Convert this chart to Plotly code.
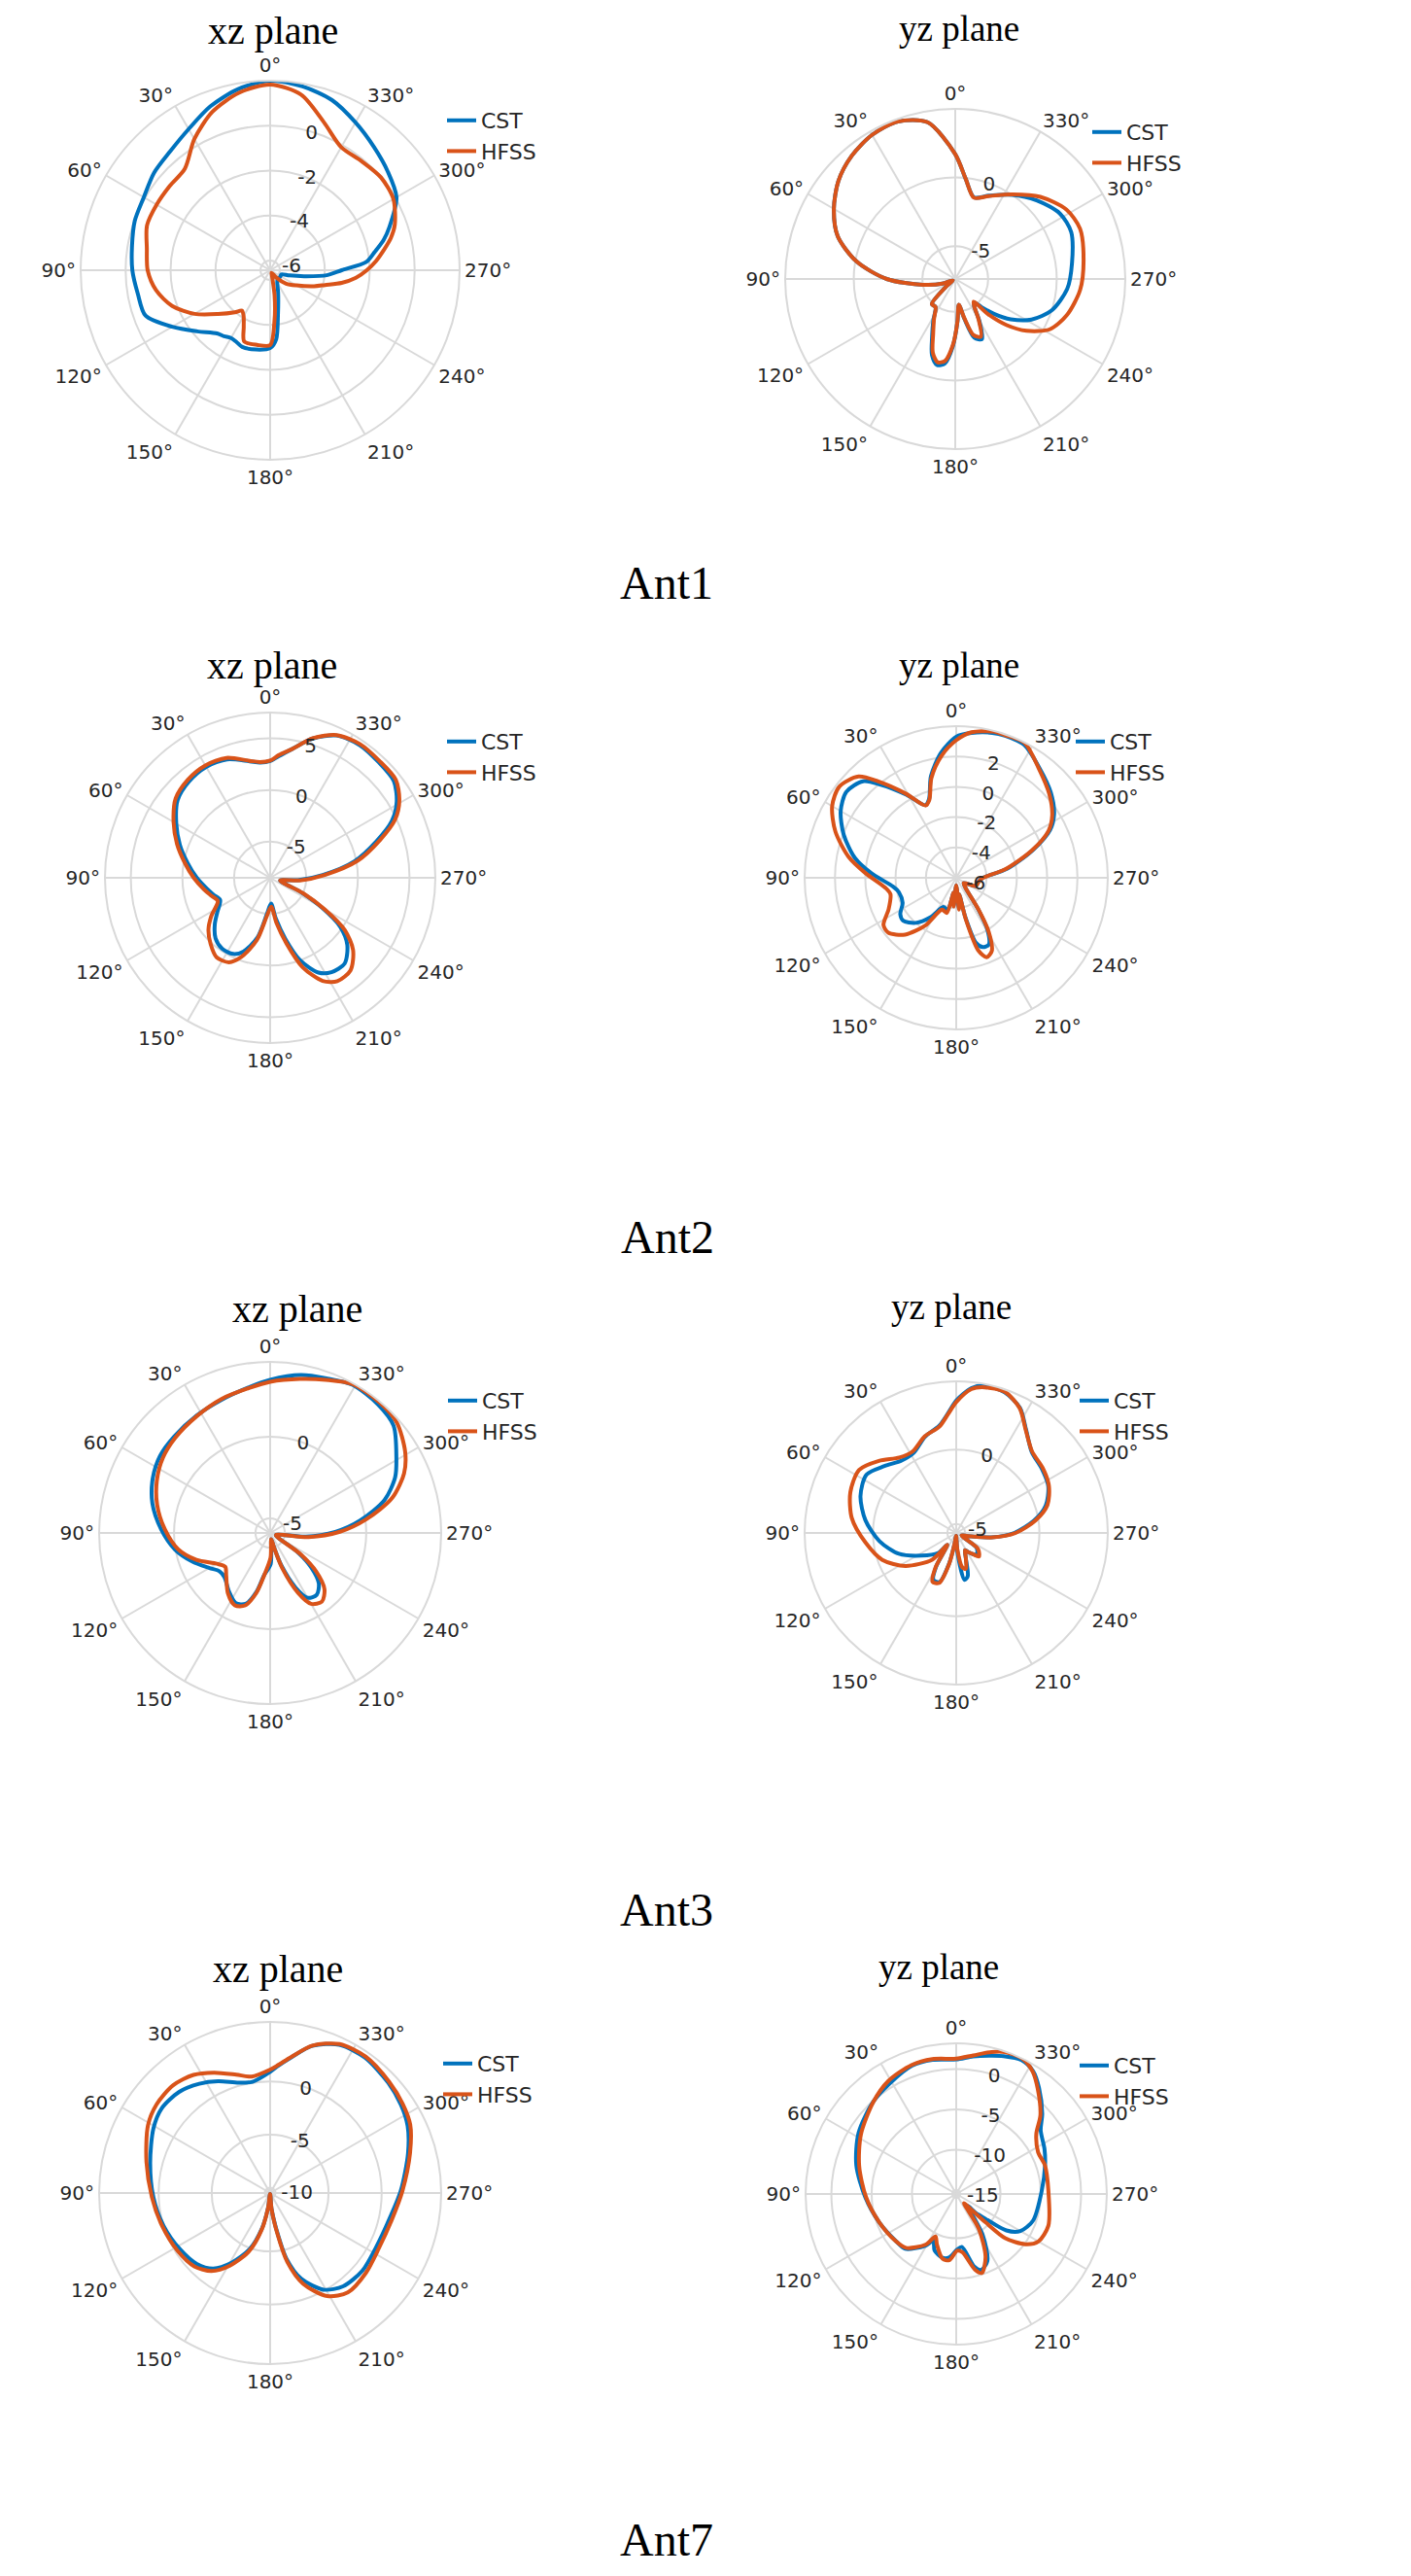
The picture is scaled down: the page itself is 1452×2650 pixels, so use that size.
import plotly.graph_objects as go

# ---- values (theta in degrees, gain in dB) ----

# Ant1, xz plane
theta_ant1_xz = [0, 10, 20, 30, 40, 50, 60, 70, 80, 90, 100, 110, 120, 130, 140, 145, 150, 155, 160, 170,
                 180, 185, 190, 200, 210, 220, 230, 240, 250, 255, 260, 265, 270, 275, 280, 285, 290, 300, 310, 320,
                 330, 340, 350]
cst_ant1_xz = [2.0, 1.75, 1.33, 0.82, 0.48, 0.31, 0.06, -0.02, -0.19, -0.3, -0.45, -0.53, -1.4, -2.2, -2.76, -2.85, -2.95, -2.9, -2.8, -2.85,
               -2.97, -3.35, -4.43, -5.4, -5.8, -5.9, -5.9, -5.9, -5.9, -5.54, -4.9, -3.9, -3.25, -2.13, -1.7, -1.2, -0.78, 0.06, 0.4, 0.74,
               1.16, 1.62, 1.87]
hfss_ant1_xz = [1.83, 1.58, 1.07, 0.31, -0.53, -0.6, -0.6, -0.6, -0.86, -0.98, -1.28, -1.79, -2.55, -3.4, -3.99, -4.24, -4.07, -3.65, -3.06, -3.06,
                -3.1, -4.2, -5.3, -6.2, -6.3, -6.0, -5.5, -5.08, -4.35, -3.9, -3.2, -2.6, -2.13, -1.7, -1.3, -0.87, -0.53, -0.1, 0.0, -0.1,
                -0.11, 0.57, 1.5]

# Ant1, yz plane
theta_ant1_yz = [0, 10, 20, 30, 40, 50, 60, 70, 80, 90, 100, 110, 120, 130, 137, 145, 152, 158, 163, 168,
                 173, 178, 183, 188, 193, 198, 204, 210, 215, 219, 223, 228, 234, 242, 252, 265, 278, 292, 302, 314,
                 326, 338, 347, 354]
cst_ant1_yz = [1.7, 4.2, 4.82, 4.73, 4.33, 3.72, 2.82, 1.72, -0.1, -2.4, -5.0, -6.4, -7.2, -6.5, -4.9, -4.9, -4.0, -2.9, -1.6, -1.0,
               -1.2, -2.5, -4.3, -5.5, -4.4, -2.9, -2.6, -3.9, -5.0, -5.2, -4.6, -3.6, -2.4, -1.1, 0.0, 0.8, 1.2, 1.72, 1.6, 0.85,
               0.0, -0.85, -1.3, -0.07]
hfss_ant1_yz = [1.7, 4.2, 4.82, 4.73, 4.33, 3.72, 2.82, 1.72, -0.1, -2.4, -5.0, -6.4, -7.2, -6.5, -4.9, -4.9, -4.1, -3.1, -1.8, -1.2,
                -1.4, -2.6, -4.3, -5.5, -4.5, -3.1, -2.8, -4.0, -5.0, -5.27, -3.9, -2.4, -0.98, 0.41, 1.15, 1.74, 2.05, 2.41, 2.15, 1.22,
                0.04, -0.88, -1.32, -0.07]

# Ant2, xz plane
theta_ant2_xz = [0, 5, 10, 20, 30, 40, 50, 60, 70, 80, 90, 100, 107, 114, 123, 130, 138, 146, 154, 160,
                 168, 175, 182, 188, 194, 200, 207, 213, 221, 229, 235, 240, 245, 255, 265, 273, 281, 289, 295, 301,
                 308, 317, 326, 335, 343, 350, 356]
cst_ant2_xz = [2.8, 2.7, 2.95, 3.7, 3.9, 3.7, 3.2, 2.0, 0.8, -0.4, -1.4, -2.3, -2.8, -3.2, -2.4, -1.5, -0.6, -0.2, -0.3, -0.9,
               -2.6, -5.0, -6.0, -4.5, -2.4, 0.0, 1.8, 2.4, 2.5, 1.4, -0.2, -2.7, -5.2, -7.5, -5.8, -3.4, -0.2, 2.4, 4.5, 5.8,
               6.7, 6.85, 7.0, 6.7, 5.6, 4.2, 3.3]
hfss_ant2_xz = [2.85, 2.75, 3.0, 3.85, 4.06, 3.9, 3.45, 2.3, 1.1, -0.1, -1.1, -2.0, -2.55, -2.95, -1.7, -0.7, 0.12, 0.78, 0.6, -0.34,
                -2.34, -4.77, -5.7, -4.08, -1.94, 0.72, 2.7, 3.44, 3.37, 2.14, 0.33, -2.4, -5.0, -7.5, -5.6, -3.2, 0.12, 2.76, 4.86, 6.1,
                6.94, 7.0, 7.1, 6.75, 5.63, 4.2, 3.4]

# Ant2, yz plane
theta_ant2_yz = [0, 7, 14, 19, 23, 31, 39, 44, 52, 60, 69, 79, 87, 98, 104, 115, 123, 129, 138, 147,
                 156, 165, 170, 175, 180, 185, 190, 193, 197, 201, 206, 211, 215, 223, 235, 247, 260, 269, 280, 290,
                 297, 303, 312, 323, 333, 341, 346, 354]
cst_ant2_yz = [3.3, 2.3, 0.9, -0.5, -0.8, 0.4, 1.9, 2.85, 3.2, 2.8, 1.95, 0.8, -0.4, -1.8, -2.1, -2.1, -1.6, -1.5, -2.0, -2.9,
               -3.9, -3.8, -5.0, -4.2, -5.5, -4.0, -4.9, -3.4, -1.5, -1.1, -1.1, -2.0, -3.5, -5.1, -5.4, -4.6, -4.5, -4.3, -2.6, -0.6,
               0.95, 1.7, 2.4, 3.1, 3.85, 3.9, 3.85, 3.6]
hfss_ant2_yz = [3.07, 2.08, 0.77, -0.56, -0.82, 0.48, 2.17, 3.28, 3.78, 3.45, 2.54, 1.23, 0.0, -1.28, -1.53, -1.08, -0.28, -0.24, -0.96, -2.25,
                -3.7, -3.6, -5.0, -4.1, -5.5, -3.9, -4.9, -3.2, -0.97, -0.39, -0.64, -1.84, -3.41, -5.1, -5.4, -4.6, -4.5, -4.28, -2.69, -0.66,
                0.84, 1.55, 2.26, 3.04, 3.97, 3.95, 3.94, 3.65]

# Ant3, xz plane
theta_ant3_xz = [0, 8, 20, 32, 45, 55, 65, 76, 88, 100, 110, 120, 127, 134, 145, 154, 161, 167, 172, 181,
                 190, 195, 199, 205, 210, 217, 224, 230, 235, 245, 255, 264, 271, 278, 286, 294, 301, 311, 320, 331,
                 340, 349]
cst_ant3_xz = [3.5, 3.15, 2.8, 2.6, 2.45, 2.35, 2.05, 1.55, 0.8, 0.02, -0.8, -1.6, -2.0, -2.0, -1.5, -1.1, -1.3, -2.2, -3.3, -4.0,
               -5.5, -5.0, -3.8, -2.2, -1.3, -1.15, -1.6, -2.6, -3.8, -5.5, -5.5, -3.7, -1.9, -0.3, 1.4, 2.5, 3.14, 4.14, 4.4, 4.5,
               4.2, 3.97]
hfss_ant3_xz = [3.38, 3.1, 2.85, 2.57, 2.35, 2.14, 1.77, 1.25, 0.57, -0.16, -1.08, -2.12, -2.45, -2.15, -1.38, -0.96, -1.2, -2.12, -3.27, -4.38,
                -5.5, -4.95, -3.6, -1.84, -0.88, -0.62, -1.1, -2.2, -3.61, -5.5, -5.5, -3.53, -1.62, 0.04, 1.89, 3.1, 3.77, 4.41, 4.55, 4.54,
                4.1, 3.73]

# Ant3, yz plane
theta_ant3_yz = [0, 4, 9, 18, 28, 37, 47, 57, 69, 82, 96, 110, 123, 138, 143, 149, 154, 161, 167, 172,
                 178, 184, 190, 195, 201, 207, 212, 218, 224, 234, 245, 255, 263, 270, 279, 287, 297, 307, 317, 326,
                 333, 341, 349, 354]
cst_ant3_yz = [3.3, 2.45, 1.7, 1.2, 0.5, 0.5, 1.0, 1.6, 1.3, 0.57, -0.4, -1.5, -2.8, -3.8, -4.6, -3.0, -2.1, -2.1, -3.5, -5.0,
               -5.4, -4.2, -2.4, -2.6, -3.8, -4.3, -4.1, -3.8, -3.6, -3.9, -5.2, -4.8, -3.2, -1.7, -0.3, 0.7, 1.35, 1.6, 1.85, 2.8,
               3.85, 4.4, 4.5, 4.2]
hfss_ant3_yz = [3.2, 2.4, 1.64, 1.24, 0.62, 0.75, 1.51, 2.19, 2.03, 1.49, 0.54, -0.31, -1.53, -3.19, -4.6, -2.9, -1.96, -2.04, -3.44, -5.0,
                -5.4, -4.5, -3.25, -3.1, -3.8, -4.3, -4.07, -3.8, -3.4, -3.8, -5.2, -4.8, -3.15, -1.6, -0.19, 0.82, 1.4, 1.68, 1.89, 2.76,
                3.81, 4.44, 4.38, 4.13]

# Ant7, xz plane
theta_ant7_xz = [0, 9, 16, 25, 33, 42, 52, 61, 76, 92, 107, 122, 134, 143, 151, 160, 167, 172, 178, 185,
                 190, 194, 200, 209, 218, 230, 243, 258, 271, 286, 296, 304, 313, 325, 335, 344, 351, 357]
cst_ant7_xz = [0.9, 0.1, 0.3, 1.1, 1.75, 2.3, 2.45, 2.06, 1.14, 0.5, 0.0, -0.5, -0.9, -1.6, -3.0, -4.9, -7.1, -9.1, -10.4, -9.0,
               -6.9, -4.1, -1.9, -0.1, 0.65, 0.85, 0.7, 1.0, 1.8, 3.0, 3.9, 4.35, 4.7, 5.05, 4.9, 3.9, 2.45, 1.4]
hfss_ant7_xz = [1.12, 0.59, 1.09, 2.0, 2.75, 3.14, 3.06, 2.65, 1.5, 0.64, 0.13, -0.23, -0.57, -1.32, -2.69, -4.64, -6.94, -9.07, -10.4, -9.0,
                -6.64, -3.79, -1.4, 0.59, 1.38, 1.24, 0.98, 1.24, 1.96, 3.2, 4.17, 4.54, 4.83, 5.17, 4.96, 3.93, 2.49, 1.48]

# Ant7, yz plane
theta_ant7_yz = [0, 10, 19, 31, 42, 58, 74, 92, 110, 128, 137, 149, 154, 159, 168, 174, 181, 186, 194, 198,
                 205, 213, 220, 224, 226, 228, 234, 240, 251, 272, 288, 297, 307, 313, 322, 328, 334, 341, 346, 353]
cst_ant7_yz = [1.2, 1.4, 1.35, 0.52, -0.1, -1.2, -2.6, -4.2, -5.3, -6.0, -6.2, -8.0, -9.0, -8.0, -7.4, -7.6, -8.6, -8.9, -6.2, -5.57,
               -6.34, -9.5, -13.0, -13.5, -12.0, -11.5, -7.8, -6.3, -5.4, -4.88, -3.9, -3.2, -2.37, -0.9, 1.2, 2.5, 3.0, 2.6, 2.2, 1.7]
hfss_ant7_yz = [1.3, 1.5, 1.44, 0.86, -0.13, -1.55, -2.97, -4.3, -5.31, -5.98, -6.36, -8.18, -9.63, -8.8, -7.29, -7.23, -8.45, -8.23, -5.81, -5.2,
                -6.88, -10.36, -14.0, -12.7, -10.45, -7.3, -4.9, -3.72, -3.4, -4.05, -3.92, -4.09, -3.05, -1.21, 0.96, 2.41, 3.2, 3.13, 2.66, 1.83]

series_names = ['CST', 'HFSS']
angle_ticks = list(range(0, 360, 30))
ant_labels = ['Ant1', 'Ant2', 'Ant3', 'Ant7']

# ---- styling / layout ----
BLUE = '#0072BD'
ORANGE = '#D95319'
GRID = '#d9d9d9'
TXT = '#262626'
SANS = 'DejaVu Sans'
SERIF = 'Liberation Serif'

W, H = 1436, 2634
OFF = 8  # default body margin of the page

R_AXIS_ANGLE = 80  # radial labels sit just right of the 0° spoke


def fx(px):
    return (px - OFF) / W


def fy(py):
    return 1 - (py - OFF) / H


panels = [
    dict(theta=theta_ant1_xz, cst=cst_ant1_xz, hfss=hfss_ant1_xz, rng=[-6.43, 2], ticks=[-6, -4, -2, 0],
         c=(278, 278), rad=195, leg=(462, 118), title='xz plane', tpos=(281, 32), tsize=40),
    dict(theta=theta_ant1_yz, cst=cst_ant1_yz, hfss=hfss_ant1_yz, rng=[-7.4, 5], ticks=[-5, 0],
         c=(983, 287), rad=175, leg=(1126, 130), title='yz plane', tpos=(987, 29), tsize=37),
    dict(theta=theta_ant2_xz, cst=cst_ant2_xz, hfss=hfss_ant2_xz, rng=[-8.5, 7.5], ticks=[-5, 0, 5],
         c=(278, 903), rad=170, leg=(462, 757), title='xz plane', tpos=(280, 684), tsize=40),
    dict(theta=theta_ant2_yz, cst=cst_ant2_yz, hfss=hfss_ant2_yz, rng=[-6, 4], ticks=[-6, -4, -2, 0, 2],
         c=(984, 903), rad=156, leg=(1109, 757), title='yz plane', tpos=(987, 685), tsize=37),
    dict(theta=theta_ant3_xz, cst=cst_ant3_xz, hfss=hfss_ant3_xz, rng=[-5.9, 4.6], ticks=[-5, 0],
         c=(278, 1577), rad=176, leg=(463, 1435), title='xz plane', tpos=(306, 1347), tsize=40),
    dict(theta=theta_ant3_yz, cst=cst_ant3_yz, hfss=hfss_ant3_yz, rng=[-5.6, 4.6], ticks=[-5, 0],
         c=(984, 1577), rad=156, leg=(1113, 1435), title='yz plane', tpos=(979, 1344), tsize=37),
    dict(theta=theta_ant7_xz, cst=cst_ant7_xz, hfss=hfss_ant7_xz, rng=[-10.5, 5.6], ticks=[-10, -5, 0],
         c=(278, 2256), rad=176, leg=(458, 2117), title='xz plane', tpos=(286, 2025), tsize=40),
    dict(theta=theta_ant7_yz, cst=cst_ant7_yz, hfss=hfss_ant7_yz, rng=[-15.5, 3.2], ticks=[-15, -10, -5, 0],
         c=(984, 2257), rad=155, leg=(1113, 2119), title='yz plane', tpos=(966, 2023), tsize=37),
]
ant_pos = [(686, 600), (687, 1273), (686, 1964), (686, 2612)]

fig = go.Figure()
layout = {}
annotations = []

for i, p in enumerate(panels):
    sub = 'polar' if i == 0 else f'polar{i + 1}'
    leg = 'legend' if i == 0 else f'legend{i + 1}'
    th = p['theta'] + [360]
    for name, vals, color in zip(series_names, (p['cst'], p['hfss']), (BLUE, ORANGE)):
        fig.add_trace(go.Scatterpolar(
            theta=th, r=vals + [vals[0]], mode='lines', name=name,
            line=dict(color=color, width=4, shape='spline', smoothing=0.8),
            subplot=sub, legend=leg, showlegend=True))

    cx, cy = p['c']
    rad = p['rad']
    layout[sub] = dict(
        domain=dict(x=[fx(cx - rad), fx(cx + rad)], y=[fy(cy + rad), fy(cy - rad)]),
        bgcolor='white',
        angularaxis=dict(rotation=90, direction='counterclockwise',
                         tickmode='array', tickvals=angle_ticks,
                         ticktext=[f'{a}°' for a in angle_ticks],
                         showline=True, linecolor=GRID, linewidth=2,
                         gridcolor=GRID, gridwidth=2, ticks='',
                         tickfont=dict(family=SANS, size=20, color=TXT)),
        radialaxis=dict(range=p['rng'], tickmode='array', tickvals=p['ticks'],
                        ticktext=[str(t) for t in p['ticks']],
                        angle=R_AXIS_ANGLE, side='clockwise', tickangle=R_AXIS_ANGLE,
                        showline=False, ticks='', gridcolor=GRID, gridwidth=2,
                        tickfont=dict(family=SANS, size=20, color=TXT)),
    )
    lx, ly = p['leg']
    layout[leg] = dict(x=fx(lx - 7), y=fy(ly - 15), xanchor='left', yanchor='top',
                       bgcolor='rgba(0,0,0,0)', borderwidth=0, tracegroupgap=0,
                       font=dict(family=SANS, size=22, color=TXT))
    tx, ty = p['tpos']
    annotations.append(dict(text=p['title'], x=fx(tx), y=fy(ty), xref='paper', yref='paper',
                            xanchor='center', yanchor='middle', showarrow=False,
                            font=dict(family=SERIF, size=p['tsize'], color='black')))

for label, (ax, ay) in zip(ant_labels, ant_pos):
    annotations.append(dict(text=label, x=fx(ax), y=fy(ay), xref='paper', yref='paper',
                            xanchor='center', yanchor='middle', showarrow=False,
                            font=dict(family=SERIF, size=48, color='black')))

fig.update_layout(
    width=W, height=H,
    margin=dict(l=0, r=0, t=0, b=0),
    paper_bgcolor='white', plot_bgcolor='white',
    showlegend=True,
    annotations=annotations,
    **layout,
)

fig.write_html("out.html")
